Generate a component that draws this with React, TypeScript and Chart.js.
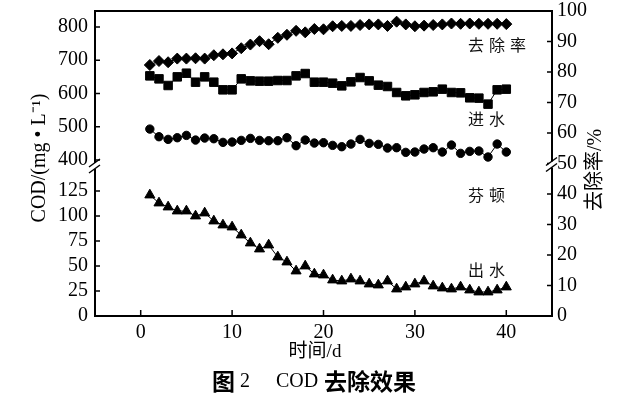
import React, { useEffect, useRef } from 'react';
import { Chart, registerables } from 'chart.js';

Chart.register(...registerables);

const DAYS = [1, 2, 3, 4, 5, 6, 7, 8, 9, 10, 11, 12, 13, 14, 15, 16, 17, 18, 19, 20, 21, 22, 23, 24, 25, 26, 27, 28, 29, 30, 31, 32, 33, 34, 35, 36, 37, 38, 39, 40];
const REMOVAL = [82.3, 83.6, 83.2, 84.4, 84.4, 84.5, 84.4, 85.5, 85.8, 86.1, 87.8, 89.0, 90.1, 89.1, 91.2, 92.2, 93.5, 93.0, 94.1, 94.0, 95.0, 95.1, 95.1, 95.4, 95.6, 95.6, 95.1, 96.5, 95.6, 95.0, 95.2, 95.4, 95.6, 95.9, 95.8, 95.9, 95.8, 95.8, 95.8, 95.7];
const INFLUENT = [653, 644, 624, 650, 661, 634, 650, 634, 611, 611, 644, 638, 637, 637, 639, 639, 653, 660, 634, 634, 631, 623, 635, 648, 638, 625, 621, 603, 593, 596, 603, 605, 613, 603, 602, 587, 586, 568, 611, 613];
const FENTON = [493, 470, 462, 467, 474, 460, 466, 464, 453, 454, 459, 465, 459, 458, 458, 467, 443, 460, 451, 452, 444, 440, 448, 462, 450, 447, 436, 437, 423, 424, 433, 437, 424, 445, 420, 426, 427, 409, 448, 424];
const EFFLUENT = [121, 113, 109, 105, 105, 100, 103, 95, 91, 89, 81, 73, 67, 71, 59, 54, 45, 50, 42, 41, 36, 35, 37, 35, 32, 31, 35, 27, 29, 32, 35, 30, 28, 27, 29, 26, 24, 24, 26, 29];

const X_TICKS = [0, 10, 20, 30, 40];
const TOP_TICKS = [400, 500, 600, 700, 800];
const BOT_TICKS = [0, 25, 50, 75, 100, 125];
const R_TICKS = [0, 10, 20, 30, 40, 50, 60, 70, 80, 90, 100];

const SERIES_LABELS = ['去除率', '进水', '芬顿', '出水'];
const X_TITLE = '时间/d';
const Y_TITLE = 'COD/(mg • L⁻¹)';
const R_TITLE = '去除率/%';

const SERIF = "'Liberation Serif', 'Times New Roman', serif";
const CJK = "'Noto Sans CJK SC', sans-serif";
const TICK_FONT = { family: SERIF, size: 20 };

const setTicks = (vals: number[]) => (s: any) => {
  s.ticks = vals.map((v) => ({ value: v }));
};
const noPad = (s: any) => {
  s.paddingTop = 0;
  s.paddingBottom = 0;
  s.paddingLeft = 0;
  s.paddingRight = 0;
};

const decor = {
  id: 'decor',
  afterDraw(chart: any) {
    const { ctx, chartArea: a, scales } = chart;
    ctx.save();
    ctx.strokeStyle = '#000';
    ctx.lineWidth = 2;
    ctx.strokeRect(a.left, a.top, a.right - a.left, a.bottom - a.top);

    ctx.lineWidth = 1.5;
    ctx.beginPath();
    scales.x.ticks.forEach((t: any) => {
      const p = scales.x.getPixelForValue(t.value);
      ctx.moveTo(p, a.bottom);
      ctx.lineTo(p, a.bottom - 6);
    });
    ['yTop', 'yBot'].forEach((id) => {
      scales[id].ticks.forEach((t: any) => {
        const p = scales[id].getPixelForValue(t.value);
        ctx.moveTo(a.left, p);
        ctx.lineTo(a.left + 5, p);
      });
    });
    scales.yR.ticks.forEach((t: any) => {
      const p = scales.yR.getPixelForValue(t.value);
      ctx.moveTo(a.right, p);
      ctx.lineTo(a.right - 5, p);
    });
    ctx.stroke();

    const brk = (x: number, y: number) => {
      ctx.fillStyle = '#fff';
      ctx.fillRect(x - 3, y - 3, 6, 6);
      ctx.beginPath();
      ctx.moveTo(x - 6, y + 1);
      ctx.lineTo(x + 5, y - 7);
      ctx.moveTo(x - 6, y + 7);
      ctx.lineTo(x + 5, y - 1);
      ctx.stroke();
    };
    brk(a.left, scales.yBot.top);
    brk(a.right, scales.yR.getPixelForValue(50) + 1);

    // series labels
    ctx.fillStyle = '#111';
    ctx.textBaseline = 'middle';
    ctx.textAlign = 'left';
    ctx.font = `16px ${CJK}`;
    const lx = scales.x.getPixelForValue(35.8);
    const drawSpaced = (txt: string, x: number, y: number, step: number) => {
      Array.from(txt).forEach((ch, i) => ctx.fillText(ch, x + i * step, y));
    };
    drawSpaced(SERIES_LABELS[0], lx, scales.yR.getPixelForValue(88.9), 21);
    drawSpaced(SERIES_LABELS[1], lx, scales.yTop.getPixelForValue(523), 21);
    drawSpaced(SERIES_LABELS[2], lx, scales.yBot.getPixelForValue(121), 21);
    drawSpaced(SERIES_LABELS[3], lx, scales.yBot.getPixelForValue(46), 21);

    // axis titles
    ctx.fillStyle = '#000';
    ctx.textAlign = 'center';
    ctx.font = `19px ${SERIF}, ${CJK}`;
    ctx.fillText(X_TITLE, 315, 352);

    ctx.save();
    ctx.translate(40, 158);
    ctx.rotate(-Math.PI / 2);
    ctx.font = `20px ${SERIF}`;
    ctx.fillText(Y_TITLE, 0, 0);
    ctx.restore();

    ctx.save();
    ctx.translate(596, 170);
    ctx.rotate(-Math.PI / 2);
    ctx.font = `20px ${SERIF}, ${CJK}`;
    ctx.fillText(R_TITLE, 0, 0);
    ctx.restore();

    // caption
    ctx.textAlign = 'left';
    ctx.font = `bold 23px ${CJK}`;
    ctx.fillText('图', 212, 381);
    ctx.fillText('去除效果', 324, 381);
    ctx.font = `20px ${SERIF}`;
    ctx.fillText('2', 240, 382);
    ctx.fillText('COD', 276, 382);

    ctx.restore();
  },
};

export default function App() {
  const ref = useRef<HTMLCanvasElement | null>(null);
  useEffect(() => {
    if (!ref.current) return;
    const common = {
      borderColor: '#000',
      borderWidth: 1,
      pointBackgroundColor: '#000',
      pointBorderColor: '#000',
      pointBorderWidth: 1,
      tension: 0,
    };
    const chart = new Chart(ref.current, {
      type: 'line',
      data: {
        datasets: [
          { ...common, label: SERIES_LABELS[0], data: DAYS.map((d, i) => ({ x: d, y: REMOVAL[i] })), yAxisID: 'yR', pointStyle: 'rectRot', pointRadius: 5.5 },
          { ...common, label: SERIES_LABELS[1], data: DAYS.map((d, i) => ({ x: d, y: INFLUENT[i] })), yAxisID: 'yTop', pointStyle: 'rect', pointRadius: 6 },
          { ...common, label: SERIES_LABELS[2], data: DAYS.map((d, i) => ({ x: d, y: FENTON[i] })), yAxisID: 'yTop', pointStyle: 'circle', pointRadius: 4.2 },
          { ...common, label: SERIES_LABELS[3], data: DAYS.map((d, i) => ({ x: d, y: EFFLUENT[i] })), yAxisID: 'yBot', pointStyle: 'triangle', pointRadius: 5.8 },
        ],
      },
      options: {
        responsive: false,
        animation: false,
        devicePixelRatio: 1,
        layout: { padding: { top: 11, left: 0, right: 0, bottom: 0 } },
        plugins: { legend: { display: false }, tooltip: { enabled: false }, title: { display: false } },
        scales: {
          x: {
            type: 'linear',
            min: -5,
            max: 45,
            afterBuildTicks: setTicks(X_TICKS),
            grid: { display: false, drawTicks: false },
            border: { display: false },
            ticks: { font: TICK_FONT, color: '#000', padding: 5, autoSkip: false, maxRotation: 0 },
            afterFit: (s: any) => { noPad(s); s.height = 80; },
          },
          yBot: {
            type: 'linear',
            position: 'left',
            stack: 'left',
            stackWeight: 150,
            min: 0,
            max: 150,
            afterBuildTicks: setTicks(BOT_TICKS),
            grid: { display: false, drawTicks: false },
            border: { display: false },
            ticks: { font: TICK_FONT, color: '#000', padding: 7, autoSkip: false },
            afterFit: (s: any) => { noPad(s); s.width = 95; },
          },
          yTop: {
            type: 'linear',
            position: 'left',
            stack: 'left',
            stackWeight: 155,
            min: 382,
            max: 848,
            afterBuildTicks: setTicks(TOP_TICKS),
            grid: { display: false, drawTicks: false },
            border: { display: false },
            ticks: { font: TICK_FONT, color: '#000', padding: 7, autoSkip: false },
            afterFit: (s: any) => { noPad(s); s.width = 95; },
          },
          yR: {
            type: 'linear',
            position: 'right',
            min: 0,
            max: 100,
            afterBuildTicks: setTicks(R_TICKS),
            grid: { display: false, drawTicks: false },
            border: { display: false },
            ticks: { font: TICK_FONT, color: '#000', padding: 5, autoSkip: false },
            afterFit: (s: any) => { noPad(s); s.width = 71; },
          },
        },
      },
      plugins: [decor],
    } as any);
    return () => chart.destroy();
  }, []);
  return (
    <div style={{ position: 'absolute', left: 0, top: 0, width: 623, height: 396, background: '#fff' }}>
      <canvas ref={ref} width={623} height={396} />
    </div>
  );
}
